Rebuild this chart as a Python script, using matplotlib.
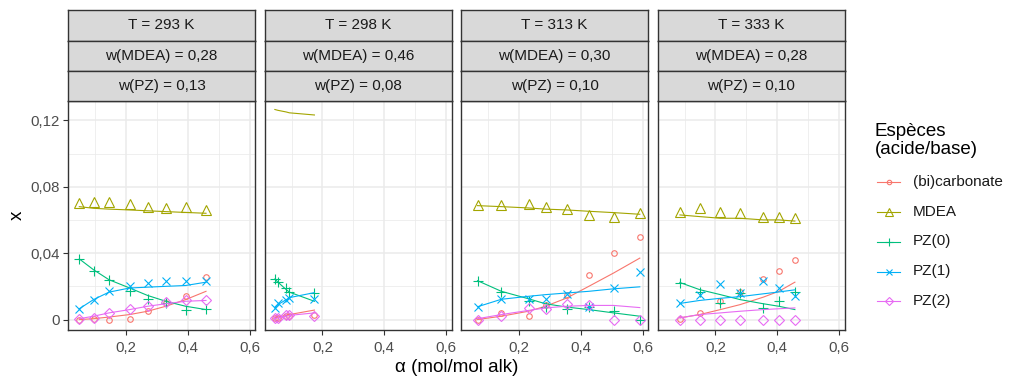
import matplotlib
matplotlib.use('Agg')
import matplotlib.pyplot as plt
from matplotlib.lines import Line2D
from matplotlib.ticker import FuncFormatter, MultipleLocator

plt.rcParams['font.family'] = ['Liberation Sans', 'DejaVu Sans']

# especes et style
especes = ['(bi)carbonate', 'MDEA', 'PZ(0)', 'PZ(1)', 'PZ(2)']
couleurs = ['#F8766D', '#A3A500', '#00BF7D', '#00B0F6', '#E76BF3']
marqueurs = ['o', '^', '+', 'x', 'D']

# bandeaux
titres_t = ['T = 293 K', 'T = 298 K', 'T = 313 K', 'T = 333 K']
titres_mdea = ['w(MDEA) = 0,28', 'w(MDEA) = 0,46', 'w(MDEA) = 0,30', 'w(MDEA) = 0,28']
titres_pz = ['w(PZ) = 0,13', 'w(PZ) = 0,08', 'w(PZ) = 0,10', 'w(PZ) = 0,10']

# T = 293 K
alpha_293 = [0.049, 0.095, 0.145, 0.212, 0.270, 0.329, 0.393, 0.459]
exp_293 = [
    [0.0, 0.0004, 0.0, 0.0004, 0.005, 0.010, 0.0142, 0.0254],
    [0.070, 0.0705, 0.0705, 0.0695, 0.068, 0.067, 0.068, 0.066],
    [0.0365, 0.0294, 0.024, 0.0173, 0.0126, 0.0097, 0.0057, 0.0065],
    [0.0065, 0.012, 0.0169, 0.0203, 0.022, 0.0234, 0.0234, 0.0234],
    [0.0004, 0.001, 0.004, 0.0065, 0.008, 0.0106, 0.012, 0.012],
]
mod_293 = [
    [0.0, 0.0005, 0.0015, 0.003, 0.005, 0.008, 0.012, 0.0170],
    [0.068, 0.067, 0.0665, 0.066, 0.0655, 0.065, 0.0645, 0.064],
    [0.0365, 0.030, 0.024, 0.019, 0.0145, 0.011, 0.008, 0.0060],
    [0.0065, 0.012, 0.0165, 0.019, 0.0195, 0.020, 0.0205, 0.0225],
    [0.0005, 0.002, 0.004, 0.006, 0.008, 0.0095, 0.011, 0.0115],
]

# T = 298 K (pas de mesure MDEA)
alpha_298 = [0.046, 0.056, 0.083, 0.093, 0.174]
exp_298 = [
    [0.001, 0.001, 0.002, 0.002, 0.003],
    None,
    [0.0244, 0.0225, 0.019, 0.0165, 0.016],
    [0.007, 0.010, 0.012, 0.013, 0.0126],
    [0.001, 0.001, 0.003, 0.003, 0.0024],
]
mod_298 = [
    [0.001, 0.0015, 0.0025, 0.003, 0.0057],
    [0.1265, 0.126, 0.125, 0.1245, 0.1232],
    [0.0244, 0.0225, 0.018, 0.0165, 0.011],
    [0.007, 0.009, 0.012, 0.0132, 0.0162],
    [0.0005, 0.001, 0.002, 0.0025, 0.004],
]

# T = 313 K
alpha_313 = [0.066, 0.143, 0.231, 0.286, 0.355, 0.426, 0.506, 0.591]
exp_313 = [
    [0.0, 0.004, 0.0024, 0.0085, 0.0146, 0.0268, 0.0402, 0.0497],
    [0.069, 0.069, 0.0695, 0.068, 0.0665, 0.063, 0.0615, 0.064],
    [0.0234, 0.0167, 0.0112, 0.0077, 0.0065, 0.0077, 0.0051, 0.0],
    [0.0077, 0.0126, 0.0122, 0.0122, 0.0152, 0.0077, 0.0187, 0.0288],
    [0.0, 0.002, 0.0071, 0.0065, 0.0091, 0.0085, 0.0, 0.0],
]
mod_313 = [
    [0.0, 0.002, 0.005, 0.008, 0.013, 0.020, 0.028, 0.037],
    [0.0686, 0.068, 0.0672, 0.0665, 0.066, 0.0652, 0.0644, 0.0634],
    [0.0234, 0.017, 0.0125, 0.0095, 0.0075, 0.006, 0.004, 0.002],
    [0.0077, 0.0122, 0.014, 0.015, 0.016, 0.017, 0.0185, 0.0197],
    [0.0005, 0.003, 0.0055, 0.007, 0.008, 0.0085, 0.0085, 0.0072],
]

# T = 333 K
alpha_333 = [0.085, 0.149, 0.216, 0.280, 0.355, 0.405, 0.457]
exp_333 = [
    [0.0004, 0.004, 0.0112, 0.0167, 0.0244, 0.029, 0.0361],
    [0.065, 0.067, 0.065, 0.064, 0.062, 0.062, 0.061],
    [0.0223, 0.0167, 0.0102, 0.0158, 0.0071, 0.0112, 0.0167],
    [0.0097, 0.0146, 0.0213, 0.0158, 0.0234, 0.0187, 0.0142],
    [0.0, 0.0, 0.0, 0.0, 0.0, 0.0, 0.0],
]
mod_333 = [
    [0.001, 0.003, 0.006, 0.009, 0.0135, 0.017, 0.0225],
    [0.063, 0.062, 0.061, 0.061, 0.060, 0.060, 0.0593],
    [0.0223, 0.018, 0.015, 0.012, 0.0095, 0.008, 0.0060],
    [0.0097, 0.0115, 0.0128, 0.0138, 0.0155, 0.0166, 0.0179],
    [0.001, 0.003, 0.004, 0.005, 0.006, 0.0065, 0.007],
]

panneaux = [(alpha_293, exp_293, mod_293), (alpha_298, exp_298, mod_298),
            (alpha_313, exp_313, mod_313), (alpha_333, exp_333, mod_333)]

W, H = 1010, 380
fig = plt.figure(figsize=(W / 100, H / 100), dpi=100)

gauche = [68, 264.5, 461, 657.5]
largeur = 187
haut_panel, bas_panel = 100.7, 330
bandes = [(10, 40.5), (40.5, 71), (71, 100.7)]

virgule = FuncFormatter(lambda v, p: ('%g' % round(v, 3)).replace('.', ','))
tailles = {'o': 4, '^': 7, '+': 7, 'x': 5.5, 'D': 5.5}

for i, (alpha, exp, mod) in enumerate(panneaux):
    x0 = gauche[i] / W
    ax = fig.add_axes([x0, 1 - bas_panel / H, largeur / W, (bas_panel - haut_panel) / H])
    ax.set_facecolor('white')
    ax.set_xlim(0.0125, 0.6175)
    ax.set_ylim(-0.0063, 0.1318)
    ax.xaxis.set_major_locator(MultipleLocator(0.2))
    ax.xaxis.set_minor_locator(MultipleLocator(0.1))
    ax.yaxis.set_major_locator(MultipleLocator(0.04))
    ax.yaxis.set_minor_locator(MultipleLocator(0.02))
    ax.grid(which='major', color='#EBEBEB', lw=1.1)
    ax.grid(which='minor', color='#EBEBEB', lw=0.55)
    ax.set_axisbelow(True)
    ax.xaxis.set_major_formatter(virgule)
    ax.yaxis.set_major_formatter(virgule)
    ax.tick_params(which='major', length=3.6, width=0.8, color='#333333',
                   labelcolor='#4D4D4D', labelsize=10.8, pad=2.5)
    ax.tick_params(axis='x', pad=4.5)
    ax.tick_params(which='minor', length=0)
    if i > 0:
        ax.tick_params(axis='y', labelleft=False, length=0)
    for s in ax.spines.values():
        s.set_color('#333333')
        s.set_linewidth(1.0)

    for k in range(len(especes)):
        ax.plot(alpha, mod[k], color=couleurs[k], lw=0.8)
        if exp[k] is not None:
            ax.plot(alpha, exp[k], linestyle='none', marker=marqueurs[k],
                    ms=tailles[marqueurs[k]], mfc='none', mec=couleurs[k], mew=0.8)

    # bandeaux de facette
    textes = [titres_t[i], titres_mdea[i], titres_pz[i]]
    for (yh, yb), txt in zip(bandes, textes):
        sb = fig.add_axes([x0, 1 - yb / H, largeur / W, (yb - yh) / H])
        sb.set_facecolor('#D9D9D9')
        sb.set_xticks([])
        sb.set_yticks([])
        for s in sb.spines.values():
            s.set_color('#333333')
            s.set_linewidth(1.0)
        sb.text(0.5, 0.5, txt, ha='center', va='center', fontsize=11, color='#1A1A1A',
                transform=sb.transAxes)

fig.text(457 / W, 1 - 368 / H, 'α (mol/mol alk)', ha='center', va='center', fontsize=13.5)
fig.text(17 / W, 1 - 215 / H, 'x', ha='center', va='center', fontsize=13.5, rotation=90)

# legende construite a la main
fig.text(875 / W, 1 - 122.5 / H, 'Espèces\n(acide/base)', ha='left', va='top',
         fontsize=13.5, linespacing=1.1)
lignes_leg = [182, 212, 241.5, 271.5, 301]
for k, yl in enumerate(lignes_leg):
    yf = 1 - yl / H
    fig.add_artist(Line2D([877 / W, 900 / W], [yf, yf], transform=fig.transFigure,
                          color=couleurs[k], lw=0.8))
    fig.add_artist(Line2D([888.5 / W], [yf], transform=fig.transFigure, linestyle='none',
                          marker=marqueurs[k], ms=tailles[marqueurs[k]] * 0.8, mfc='none',
                          mec=couleurs[k], mew=0.8))
    fig.text(912.5 / W, yf, especes[k], ha='left', va='center', fontsize=11, color='#1A1A1A')

fig.savefig('out.png', dpi=100)
